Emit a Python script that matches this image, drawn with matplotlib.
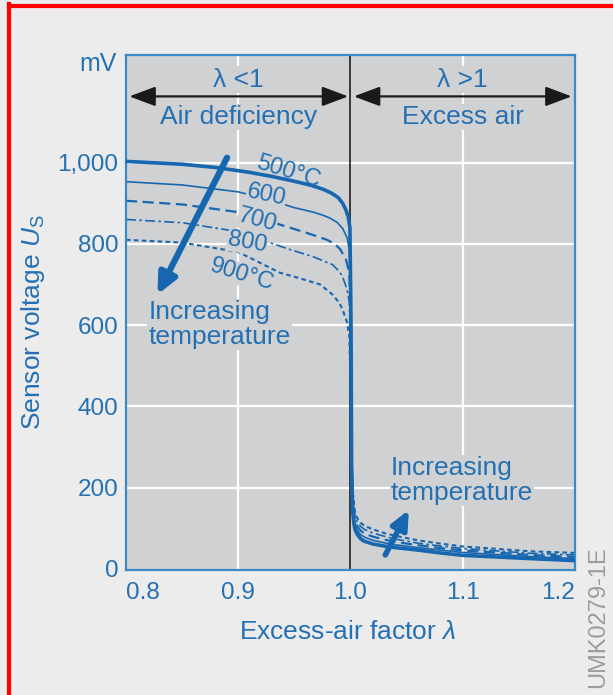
import matplotlib
matplotlib.use('Agg')
import matplotlib.pyplot as plt
from matplotlib.lines import Line2D

plt.rcParams['font.family'] = ['Liberation Sans', 'DejaVu Sans']
plt.rcParams['mathtext.fontset'] = 'custom'
plt.rcParams['mathtext.rm'] = 'Liberation Sans'
plt.rcParams['mathtext.it'] = 'Liberation Sans:italic'

# Excess-air factor and sensor voltage (mV)
lam_500 = [0.800, 0.850, 0.880, 0.910, 0.930, 0.950, 0.965, 0.975, 0.983, 0.989, 0.993, 0.996, 0.998, 0.9995,
           1.0005, 1.001, 1.002, 1.003, 1.004, 1.006, 1.009, 1.012, 1.020, 1.030, 1.040, 1.060, 1.080, 1.100,
           1.130, 1.160, 1.200]
u_500 = [1003, 996, 988, 976, 966, 954, 944, 935, 925, 914, 900, 883, 866, 840,
         600, 250, 140, 112, 97, 85, 74, 68, 61, 56, 52, 46, 39, 33, 29, 25, 20]

lam_600 = [0.800, 0.850, 0.900, 0.930, 0.950, 0.967, 0.976, 0.982, 0.988, 0.993, 0.997, 0.999,
           1.0005, 1.001, 1.002, 1.004, 1.006, 1.009, 1.013, 1.020, 1.030, 1.040, 1.060, 1.080, 1.100,
           1.130, 1.160, 1.200]
u_600 = [953, 945, 928, 906, 889, 878, 870, 863, 853, 838, 815, 786,
         600, 270, 155, 108, 95, 84, 77, 70, 64, 59, 52, 46, 40, 35, 30, 25]

lam_700 = [0.800, 0.850, 0.900, 0.920, 0.940, 0.961, 0.979, 0.986, 0.991, 0.996, 0.999,
           1.0005, 1.001, 1.002, 1.004, 1.006, 1.009, 1.013, 1.020, 1.030, 1.040, 1.060, 1.080, 1.100,
           1.130, 1.160, 1.200]
u_700 = [906, 897, 878, 862, 845, 827, 810, 800, 786, 761, 729,
         550, 280, 165, 118, 105, 94, 86, 79, 72, 66, 58, 51, 45, 40, 34, 29]

lam_800 = [0.800, 0.850, 0.900, 0.928, 0.946, 0.967, 0.984, 0.990, 0.993, 0.997, 0.999,
           1.0005, 1.001, 1.002, 1.004, 1.006, 1.009, 1.013, 1.020, 1.030, 1.040, 1.060, 1.080, 1.100,
           1.130, 1.160, 1.200]
u_800 = [860, 852, 830, 803, 786, 768, 749, 732, 719, 687, 655,
         450, 290, 178, 129, 115, 104, 96, 88, 80, 73, 63, 56, 50, 44, 38, 34]

lam_900 = [0.800, 0.850, 0.900, 0.937, 0.955, 0.973, 0.984, 0.990, 0.993, 0.997, 0.999,
           1.0005, 1.001, 1.002, 1.004, 1.006, 1.009, 1.013, 1.020, 1.030, 1.040, 1.060, 1.080, 1.100,
           1.130, 1.160, 1.200]
u_900 = [810, 803, 780, 729, 715, 700, 675, 655, 638, 606, 571,
         400, 300, 190, 140, 125, 113, 105, 97, 88, 81, 70, 62, 55, 49, 43, 39]

x_ticks = [0.8, 0.9, 1.0, 1.1, 1.2]
x_tick_labels = ['0.8', '0.9', '1.0', '1.1', '1.2']
y_ticks = [0, 200, 400, 600, 800, 1000]
y_tick_labels = ['0', '200', '400', '600', '800', '1,000']

TEXT = '#2470b3'
CURVE = '#1767b0'
SPINE = '#3a8ac8'
FACE = '#d0d1d2'
BG = '#ebeceb'

fig = plt.figure(figsize=(6.13, 6.95), dpi=100, facecolor=BG)
ax = fig.add_axes([0.2055, 0.1799, 0.7325, 0.741], facecolor=FACE)
ax.set_xlim(0.8, 1.2)
ax.set_ylim(-3, 1265)

ax.set_xticks(x_ticks)
ax.set_xticklabels(x_tick_labels)
ax.set_yticks(y_ticks)
ax.set_yticklabels(y_tick_labels)
ax.tick_params(length=0, labelsize=17.5, labelcolor=TEXT)
ax.tick_params(axis='x', pad=9)
ax.tick_params(axis='y', pad=5.5)
xl = ax.get_xticklabels()
xl[0].set_ha('left')
xl[-1].set_ha('right')

for s in ax.spines.values():
    s.set_color(SPINE)
    s.set_linewidth(1.6)

# white grid
for xv in [0.9, 1.1]:
    ax.axvline(xv, color='white', lw=1.6, zorder=0.5)
for yv in [200, 400, 600, 800, 1000]:
    ax.axhline(yv, color='white', lw=1.6, zorder=0.5)
ax.axvline(1.0, color='#111111', lw=1.1, zorder=0.8)

# curves
ax.plot(lam_900, u_900, color=CURVE, lw=1.5, ls=(0, (2.2, 1.6)), zorder=2)
ax.plot(lam_800, u_800, color=CURVE, lw=1.2, ls=(0, (6, 2, 1.5, 2)), zorder=2)
ax.plot(lam_700, u_700, color=CURVE, lw=1.6, ls=(0, (5, 2.5)), zorder=2)
ax.plot(lam_600, u_600, color=CURVE, lw=1.2, zorder=2)
ax.plot(lam_500, u_500, color=CURVE, lw=2.6, zorder=3)

# temperature labels
box = dict(boxstyle='square,pad=0.02', fc=FACE, ec='none')
ax.text(0.945, 978, '500°C', color=TEXT, fontsize=17, rotation=-17, ha='center', va='center', zorder=4)
ax.text(0.925, 919, '600', color=TEXT, fontsize=17, rotation=-12, ha='center', va='center', bbox=box, zorder=4)
ax.text(0.917, 857, '700', color=TEXT, fontsize=17, rotation=-15, ha='center', va='center', bbox=box, zorder=4)
ax.text(0.908, 803, '800', color=TEXT, fontsize=17, rotation=-10, ha='center', va='center', bbox=box, zorder=4)
ax.text(0.903, 724, '900°C', color=TEXT, fontsize=17, rotation=-17, ha='center', va='center', bbox=box, zorder=4)

# increasing-temperature arrows
ax.annotate('', xy=(0.828, 675), xytext=(0.890, 1012),
            arrowprops=dict(arrowstyle='-|>,head_length=0.6,head_width=0.28', color=CURVE, lw=4.5,
                            mutation_scale=20, shrinkA=0, shrinkB=0), zorder=5)
ax.annotate('', xy=(1.052, 145), xytext=(1.031, 34),
            arrowprops=dict(arrowstyle='-|>,head_length=0.55,head_width=0.25', color=CURVE, lw=4,
                            mutation_scale=20, shrinkA=0, shrinkB=0), zorder=5)
tbox = dict(boxstyle='square,pad=0.05', fc=FACE, ec='none')
ax.text(0.820, 601, 'Increasing\ntemperature', color=TEXT, fontsize=19, ha='left', va='center',
        linespacing=1.05, bbox=tbox, zorder=4)
ax.text(1.036, 217, 'Increasing\ntemperature', color=TEXT, fontsize=19, ha='left', va='center',
        linespacing=1.05, bbox=tbox, zorder=4)

# header: rich / lean regions
arr = dict(arrowstyle='<|-|>,head_length=0.8,head_width=0.3', color='#1a1a1a', lw=1.6,
           mutation_scale=20, shrinkA=0, shrinkB=0)
ax.annotate('', xy=(0.998, 1163), xytext=(0.803, 1163), arrowprops=arr)
ax.annotate('', xy=(1.197, 1163), xytext=(1.003, 1163), arrowprops=arr)
ax.text(0.9, 1204, 'λ <1', color=TEXT, fontsize=19, ha='center', va='center', bbox=tbox)
ax.text(1.1, 1204, 'λ >1', color=TEXT, fontsize=19, ha='center', va='center', bbox=tbox)
ax.text(0.9, 1112, 'Air deficiency', color=TEXT, fontsize=19, ha='center', va='center', bbox=tbox)
ax.text(1.1, 1112, 'Excess air', color=TEXT, fontsize=19, ha='center', va='center', bbox=tbox)

# axis titles
fig.text(117 / 613, 1 - 64 / 695, 'mV', color=TEXT, fontsize=18, ha='right', va='center')
fig.text(33 / 613, 1 - 322 / 695, 'Sensor voltage $U_\\mathrm{S}$', color=TEXT, fontsize=19,
         rotation=90, ha='center', va='center')
fig.text(348 / 613, 1 - 632 / 695, 'Excess-air factor $\\lambda$', color=TEXT, fontsize=19,
         ha='center', va='center')
fig.text(598 / 613, 1 - 617 / 695, 'UMK0279-1E', color='#9c9c9c', fontsize=17,
         rotation=90, ha='center', va='center')

# red frame of the screenshot
fig.add_artist(Line2D([9 / 613, 9 / 613], [0, 1 - 4 / 695], color='#ff0000', lw=3, transform=fig.transFigure))
fig.add_artist(Line2D([9 / 613, 1], [1 - 5.5 / 695, 1 - 5.5 / 695], color='#ff0000', lw=3,
                      transform=fig.transFigure))

fig.savefig('out.png', dpi=100, facecolor=BG)
plt.close()
